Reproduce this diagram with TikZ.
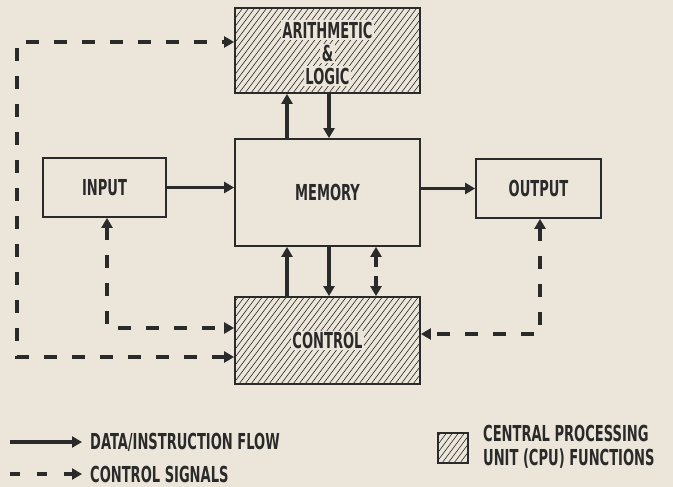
\documentclass[tikz,border=0pt]{standalone}
\usepackage{fontspec}
\setmainfont{DejaVu Sans Condensed}[FakeStretch=0.66]
\usetikzlibrary{arrows.meta}
\definecolor{bg}{RGB}{236,230,218}
\definecolor{ink}{RGB}{42,42,42}
\begin{document}
\begin{tikzpicture}[x=1pt,y=-1pt,
  txt/.style={text=ink, font=\fontsize{22}{24}\selectfont\bfseries, inner sep=1.5pt},
  box/.style={txt, draw=ink, line width=1.8pt, inner sep=0pt},
  hatched/.style={path picture={\foreach \k in {-80,-74,...,200}
      \draw[ink, line width=0.6pt] ([xshift=\k pt]path picture bounding box.south west) -- ++(90pt,120pt);}},
  lbl/.style={txt, fill=bg},
  flow/.style={draw=ink, line width=3.2pt, -{Triangle[length=10pt,width=11pt]}},
  ctrl/.style={draw=ink, line width=3.6pt, dash pattern=on 13pt off 15pt},
  both/.style={{Triangle[length=10pt,width=11pt]}-{Triangle[length=10pt,width=11pt]}},
]
\fill[bg] (0,0) rectangle (673,487);
\useasboundingbox (0,0) rectangle (673,487);

% boxes
\node[box, hatched, minimum width=185, minimum height=85] (alu) at (327.5,50.5) {};
\node[lbl] (aluA) at ([yshift=20.5pt]alu.center) {ARITHMETIC};
\node[lbl] (aluB) at ([yshift=-3pt]alu.center) {\&};
\node[lbl] (aluC) at ([yshift=-25.5pt]alu.center) {LOGIC};

\node[box, minimum width=185, minimum height=107] (memory) at (327.5,192.5) {MEMORY};
\node[box, minimum width=123, minimum height=59] (input) at (104.5,187.5) {INPUT};
\node[box, minimum width=125, minimum height=59] (output) at (538.5,188.5) {OUTPUT};
\node[box, hatched, minimum width=185, minimum height=87] (control) at (327.5,340.5) {};
\node[lbl] (ctrltext) at (control.center) {CONTROL};

% data flow
\draw[flow] (input.east) -- (input.east -| memory.west);
\draw[flow] (memory.east |- output.west) -- (output.west);
\draw[flow] ([xshift=-40.5pt]memory.north) -- ([xshift=-40.5pt]alu.south);
\draw[flow] ([xshift=1.5pt]alu.south) -- ([xshift=1.5pt]memory.north);
\draw[flow] ([xshift=-40.5pt]control.north) -- ([xshift=-40.5pt]memory.south);
\draw[flow] ([xshift=1.5pt]memory.south) -- ([xshift=1.5pt]control.north);

% control signals
\coordinate (tl) at (17,42);
\coordinate (bl) at (17,357);
\draw[ctrl, both] ([yshift=-16.5pt]control.west) -- (bl) -- (tl) -- (tl -| alu.west);
\draw[ctrl, both] ([xshift=2.5pt]input.south) |- ([yshift=12.5pt]control.west);
\draw[ctrl, both] ([xshift=1.5pt]output.south) |- ([yshift=6.5pt]control.east);
\draw[ctrl, dash pattern=on 11pt off 9pt, both]
  ([xshift=48.5pt]memory.south) -- ([xshift=48.5pt]control.north);

% legend
\coordinate (la) at (10,442);
\coordinate (lb) at (82,442);
\draw[flow] (la) -- (lb);
\node[txt, anchor=west, inner sep=0pt] (ltext1) at (90,442) {DATA/INSTRUCTION FLOW};
\coordinate (lc) at (10,474);
\coordinate (ld) at (82,474);
\draw[ctrl, dash pattern=on 10pt off 17pt, -{Triangle[length=10pt,width=11pt]}] (lc) -- (ld);
\node[txt, anchor=west, inner sep=0pt] (ltext2) at (90,474) {CONTROL SIGNALS};
\node[draw=ink, line width=1.6pt, hatched, minimum size=30, inner sep=0pt] (key) at (453,448) {};
\node[txt, anchor=west, align=left, inner sep=0pt] (ltext3) at (483,447) {CENTRAL PROCESSING\\UNIT (CPU) FUNCTIONS};
\end{tikzpicture}
\end{document}
